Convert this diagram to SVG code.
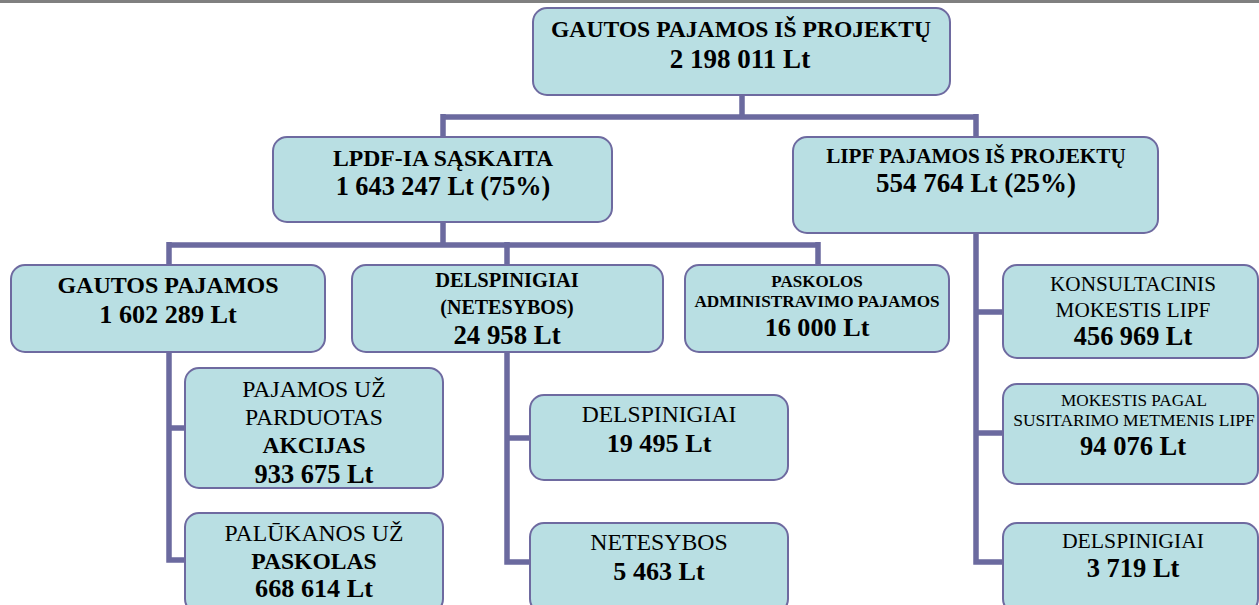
<svg xmlns="http://www.w3.org/2000/svg" width="1259" height="605" viewBox="0 0 1259 605">
<style>
.box{fill:#b9dfe3;stroke:#6e6aa0;stroke-width:2}
.con{fill:none;stroke:#6b6a9f;stroke-width:5.5;stroke-linejoin:miter}
.t text{fill:#000;text-anchor:middle}
.b{font-weight:bold}
</style>
<rect x="0" y="0" width="1259" height="3" fill="#808080"/>
<g id="connectors" class="con">
<path d="M742 95V117M443 117H976M443 114V137M976 114V137"/>
<path d="M443 222V245M167 245H818M169 242V265M507 242V265M818 242V265"/>
<path d="M169 352V560H185M169 428H185"/>
<path d="M507 352V562H530M507 438H530"/>
<path d="M976 233V562H1003M976 312H1003M976 433H1003"/>
</g>
<g class="t" font-family="'Liberation Serif', 'DejaVu Serif', serif">
<g id="n-top"><rect class="box" x="533" y="8" width="417" height="87" rx="14"/>
<text class="b" x="741" y="37" font-size="23.6">GAUTOS PAJAMOS IŠ PROJEKTŲ</text>
<text class="b" x="740" y="68" font-size="27">2 198 011 Lt</text></g>
<g id="n-lpdf"><rect class="box" x="273" y="137" width="339" height="85" rx="14"/>
<text class="b" x="443" y="166" font-size="23.7">LPDF-IA SĄSKAITA</text>
<text class="b" x="443" y="195" font-size="26.3">1 643 247 Lt (75%)</text></g>
<g id="n-lipf"><rect class="box" x="793" y="137" width="365" height="96" rx="14"/>
<text class="b" x="976" y="163" font-size="21.2">LIPF PAJAMOS IŠ PROJEKTŲ</text>
<text class="b" x="976" y="192" font-size="27">554 764 Lt (25%)</text></g>
<g id="n-gautos"><rect class="box" x="11" y="265" width="314" height="87" rx="14"/>
<text class="b" x="168" y="293" font-size="24">GAUTOS PAJAMOS</text>
<text class="b" x="168" y="323" font-size="26.2">1 602 289 Lt</text></g>
<g id="n-delsp"><rect class="box" x="352" y="265" width="311" height="87" rx="14"/>
<text class="b" x="507" y="287" font-size="20.5">DELSPINIGIAI</text>
<text class="b" x="507" y="314" font-size="20">(NETESYBOS)</text>
<text class="b" x="507" y="344" font-size="26.8">24 958 Lt</text></g>
<g id="n-paskolos"><rect class="box" x="685" y="265" width="264" height="87" rx="14"/>
<text class="b" x="817" y="287" font-size="17">PASKOLOS</text>
<text class="b" x="817" y="307" font-size="17.2">ADMINISTRAVIMO PAJAMOS</text>
<text class="b" x="817" y="336" font-size="26.2">16 000 Lt</text></g>
<g id="n-konsult"><rect class="box" x="1003" y="265" width="255" height="93" rx="14"/>
<text x="1133" y="291" font-size="21.2">KONSULTACINIS</text>
<text x="1133" y="317" font-size="21.2">MOKESTIS LIPF</text>
<text class="b" x="1133" y="345" font-size="26.3">456 969 Lt</text></g>
<g id="n-akcijas"><rect class="box" x="185" y="368" width="258" height="120" rx="14"/>
<text x="314" y="397" font-size="23.7">PAJAMOS UŽ</text>
<text x="314" y="425" font-size="23.7">PARDUOTAS</text>
<text class="b" x="314" y="453" font-size="23.5">AKCIJAS</text>
<text class="b" x="314" y="483" font-size="26.4">933 675 Lt</text></g>
<g id="n-paskolas"><rect class="box" x="185" y="513" width="258" height="100" rx="14"/>
<text x="314" y="541" font-size="23.7">PALŪKANOS UŽ</text>
<text class="b" x="314" y="569" font-size="23.6">PASKOLAS</text>
<text class="b" x="314" y="597" font-size="26.2">668 614 Lt</text></g>
<g id="n-delsp2"><rect class="box" x="530" y="395" width="258" height="85" rx="14"/>
<text x="659" y="422" font-size="23.6">DELSPINIGIAI</text>
<text class="b" x="659" y="452" font-size="26.2">19 495 Lt</text></g>
<g id="n-netesybos"><rect class="box" x="530" y="523" width="258" height="90" rx="14"/>
<text x="659" y="550" font-size="23.8">NETESYBOS</text>
<text class="b" x="659" y="580" font-size="26.1">5 463 Lt</text></g>
<g id="n-mokestis"><rect class="box" x="1003" y="384" width="255" height="100" rx="14"/>
<text x="1134" y="406" font-size="17.2">MOKESTIS PAGAL</text>
<text x="1134" y="426" font-size="17.5">SUSITARIMO METMENIS LIPF</text>
<text class="b" x="1133" y="455" font-size="26.5">94 076 Lt</text></g>
<g id="n-delsp3"><rect class="box" x="1003" y="523" width="255" height="90" rx="14"/>
<text x="1133" y="548" font-size="21.7">DELSPINIGIAI</text>
<text class="b" x="1133" y="577" font-size="26.5">3 719 Lt</text></g>
</g>
</svg>
